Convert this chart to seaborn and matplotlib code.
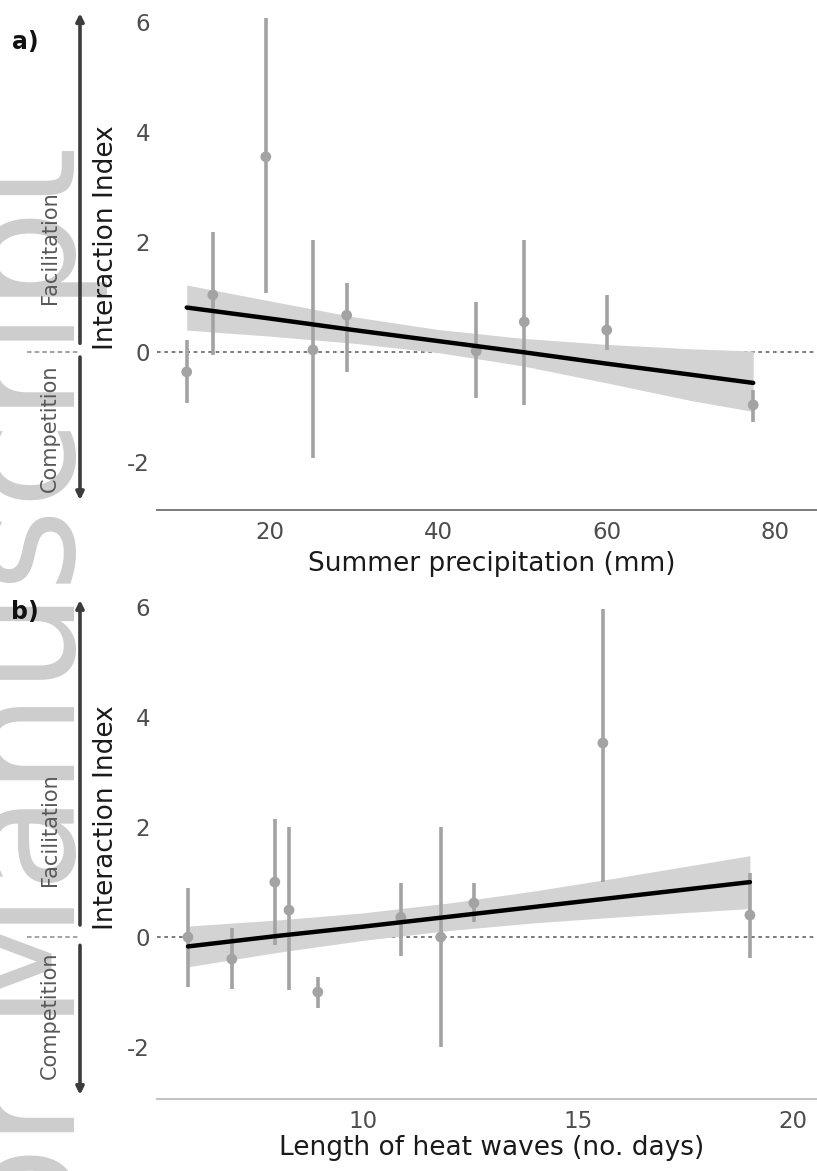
import matplotlib
matplotlib.use("Agg")
import matplotlib.pyplot as plt
import numpy as np
import pandas as pd
import seaborn as sns

# ---- data: panel a, summer precipitation ----
precip_mm = [10.1, 13.2, 19.5, 25.1, 29.1, 44.5, 50.2, 60.0, 77.4]
precip_index = [-0.36, 1.04, 3.55, 0.04, 0.67, 0.02, 0.55, 0.40, -0.96]
precip_lower = [-0.93, -0.05, 1.07, -1.93, -0.36, -0.84, -0.96, 0.04, -1.27]
precip_upper = [0.22, 2.18, 6.07, 2.04, 1.25, 0.91, 2.04, 1.04, -0.69]

precip_fit_x = [10.1, 20, 30, 40, 50, 60, 70, 77.4]
precip_fit_y = [0.81, 0.61, 0.40, 0.20, 0.00, -0.21, -0.41, -0.56]
precip_fit_lo = [0.40, 0.29, 0.16, -0.01, -0.25, -0.56, -0.88, -1.08]
precip_fit_hi = [1.22, 0.93, 0.64, 0.41, 0.25, 0.14, 0.06, 0.02]

# ---- data: panel b, heat wave length ----
heat_days = [5.93, 6.95, 7.95, 8.28, 8.95, 10.88, 11.81, 12.58, 15.58, 19.0]
heat_index = [0.0, -0.40, 1.0, 0.49, -1.0, 0.36, 0.0, 0.62, 3.53, 0.40]
heat_lower = [-0.91, -0.95, -0.15, -0.96, -1.29, -0.35, -2.0, 0.27, 1.0, -0.38]
heat_upper = [0.89, 0.16, 2.15, 2.0, -0.72, 0.98, 2.0, 0.98, 5.96, 1.16]

heat_fit_x = [5.93, 8, 10, 12, 14, 16, 19.0]
heat_fit_y = [-0.17, 0.02, 0.19, 0.37, 0.55, 0.73, 1.0]
heat_fit_lo = [-0.54, -0.28, -0.06, 0.12, 0.26, 0.37, 0.52]
heat_fit_hi = [0.20, 0.31, 0.44, 0.62, 0.84, 1.09, 1.48]

y_ticks = [-2, 0, 2, 4, 6]
precip_ticks = [20, 40, 60, 80]
heat_ticks = [10, 15, 20]

sns.set_theme(style="white")
plt.rcParams["font.family"] = ["DejaVu Sans"]
plt.rcParams["axes.unicode_minus"] = False

W, H = 817, 1171
fig = plt.figure(figsize=(W / 100, H / 100), dpi=100)

POINT_GREY = "#a3a3a3"
BAND_GREY = "#d3d3d3"
TICK_GREY = "#4d4d4d"


def px_box(left, top, right, bottom):
    return [left / W, 1 - bottom / H, (right - left) / W, (bottom - top) / H]


# watermark running up the left margin, kept underneath everything else
fig.text(75 / W, 1 - 146 / H, "Author Manuscript", rotation=90,
         rotation_mode="anchor", ha="right", va="baseline", fontsize=115,
         color="#cdcdcd", zorder=-5)


def draw_panel(box, xs, ys, lo, hi, fx, fy, flo, fhi, xlim, ylim, xticks,
               xlabel, letter, letter_y, spine_color, ylab_y, xlab_y,
               fac_y, comp_y, up_arrow, down_arrow):
    ax = fig.add_axes(px_box(*box))
    ax.set_facecolor("none")
    pts = pd.DataFrame({"x": xs, "y": ys, "lo": lo, "hi": hi})
    fit = pd.DataFrame({"x": fx, "y": fy, "lo": flo, "hi": fhi})

    ax.axhline(0, color="#666666", lw=1.2, ls=(0, (2.2, 2.2)), zorder=1)
    ax.fill_between(fit["x"], fit["lo"], fit["hi"], color=BAND_GREY, lw=0, zorder=2)
    ax.vlines(pts["x"], pts["lo"], pts["hi"], color=POINT_GREY, lw=2.6, zorder=3)
    sns.scatterplot(data=pts, x="x", y="y", ax=ax, color=POINT_GREY, s=60,
                    edgecolor="none", zorder=4, legend=False)
    sns.lineplot(data=fit, x="x", y="y", ax=ax, color="black", lw=3.2, zorder=5)

    ax.set_xlim(*xlim)
    ax.set_ylim(*ylim)
    ax.set_xticks(xticks)
    ax.set_yticks(y_ticks)
    for s in ["top", "right", "left"]:
        ax.spines[s].set_visible(False)
    ax.spines["bottom"].set_color(spine_color)
    ax.spines["bottom"].set_linewidth(1.3)
    ax.tick_params(axis="both", labelsize=16.5, labelcolor=TICK_GREY,
                   color="#8a8a8a", length=3, width=1, direction="out")
    ax.tick_params(axis="y", pad=2)
    ax.tick_params(axis="x", pad=5)
    ax.set_xlabel(xlabel, fontsize=19, color="#1a1a1a")
    ax.xaxis.set_label_coords(0.507, xlab_y)
    ax.set_ylabel("Interaction Index", fontsize=19, color="#1a1a1a")
    ax.yaxis.set_label_coords(-0.058, ylab_y)

    # side strip with the facilitation / competition arrows
    side = fig.add_axes(px_box(0, box[1], box[0], box[3]))
    side.set_xlim(0, 1)
    side.set_ylim(*ylim)
    side.axis("off")
    side.patch.set_alpha(0)
    ax_x = 80 / box[0]
    side.annotate("", xy=(ax_x, up_arrow[1]), xytext=(ax_x, up_arrow[0]),
                  arrowprops=dict(arrowstyle="-|>", lw=2.6, color="#3c3c3c",
                                  mutation_scale=11, shrinkA=0, shrinkB=0))
    side.annotate("", xy=(ax_x, down_arrow[1]), xytext=(ax_x, down_arrow[0]),
                  arrowprops=dict(arrowstyle="-|>", lw=2.6, color="#3c3c3c",
                                  mutation_scale=11, shrinkA=0, shrinkB=0))
    side.plot([27 / box[0], 78 / box[0]], [0, 0], color="#8c8c8c", lw=1.1,
              ls=(0, (3, 2)))
    side.text(50 / box[0], fac_y, "Facilitation", rotation=90, ha="center",
              va="center", fontsize=15, color="#585858")
    side.text(50 / box[0], comp_y, "Competition", rotation=90, ha="center",
              va="center", fontsize=15, color="#585858")

    fig.text(25 / W, 1 - letter_y / H, letter, fontsize=17, fontweight="bold",
             ha="center", va="center", color="#111111")
    return ax


draw_panel((157, 0, 817, 510), precip_mm, precip_index, precip_lower, precip_upper,
           precip_fit_x, precip_fit_y, precip_fit_lo, precip_fit_hi,
           (6.57, 84.98), (-2.87, 6.4), precip_ticks,
           "Summer precipitation (mm)", "a)", 42, "#6f6f6f", 0.535, -0.080,
           1.9, -1.38, (0.16, 6.16), (-0.09, -2.69))

draw_panel((157, 583, 817, 1099), heat_days, heat_index, heat_lower, heat_upper,
           heat_fit_x, heat_fit_y, heat_fit_lo, heat_fit_hi,
           (5.21, 20.56), (-2.945, 6.44), heat_ticks,
           "Length of heat waves (no. days)", "b)", 612, "#bdbdbd", 0.545, -0.070,
           1.95, -1.42, (0.22, 6.13), (-0.15, -2.87))

fig.savefig("out.png", dpi=100)
